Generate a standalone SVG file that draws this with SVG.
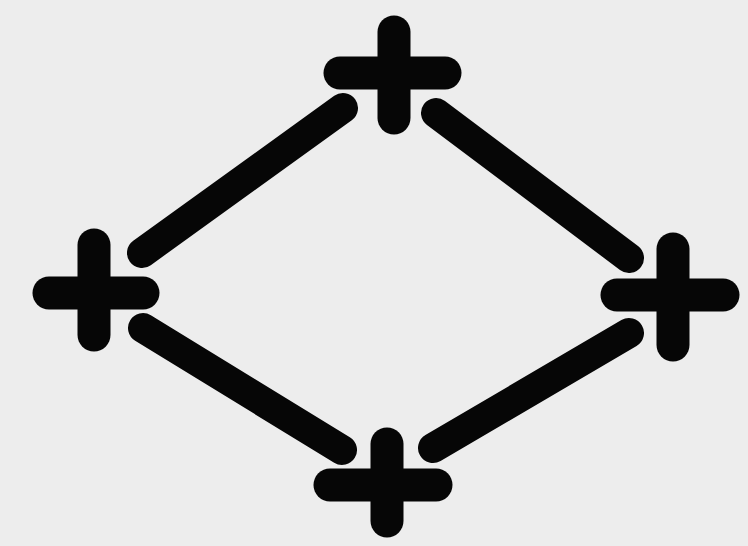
<svg xmlns="http://www.w3.org/2000/svg" width="748" height="546" viewBox="0 0 748 546">
<style>
.bg{fill:#ededed}
.plus line,.conn line{stroke:#060606;stroke-linecap:round;fill:none}
.plus line{stroke-width:33}
.conn line{stroke-width:30}
</style>
<rect class="bg" x="0" y="0" width="748" height="546"/>
<g id="node-top" class="plus">
<line x1="394" y1="32" x2="394" y2="118"/>
<line x1="340" y1="73" x2="445" y2="73"/>
</g>
<g id="node-left" class="plus">
<line x1="94" y1="245" x2="94" y2="335"/>
<line x1="49" y1="293" x2="143" y2="293"/>
</g>
<g id="node-right" class="plus">
<line x1="673" y1="249" x2="673" y2="345"/>
<line x1="617" y1="295" x2="723" y2="295"/>
</g>
<g id="node-bottom" class="plus">
<line x1="387" y1="444" x2="387" y2="521"/>
<line x1="330" y1="485" x2="436" y2="485"/>
</g>
<g id="connectors" class="conn">
<line x1="142" y1="253" x2="343" y2="108"/>
<line x1="436" y1="113" x2="629" y2="258"/>
<line x1="143" y1="328" x2="342" y2="450"/>
<line x1="433" y1="448" x2="629" y2="333"/>
</g>
</svg>
